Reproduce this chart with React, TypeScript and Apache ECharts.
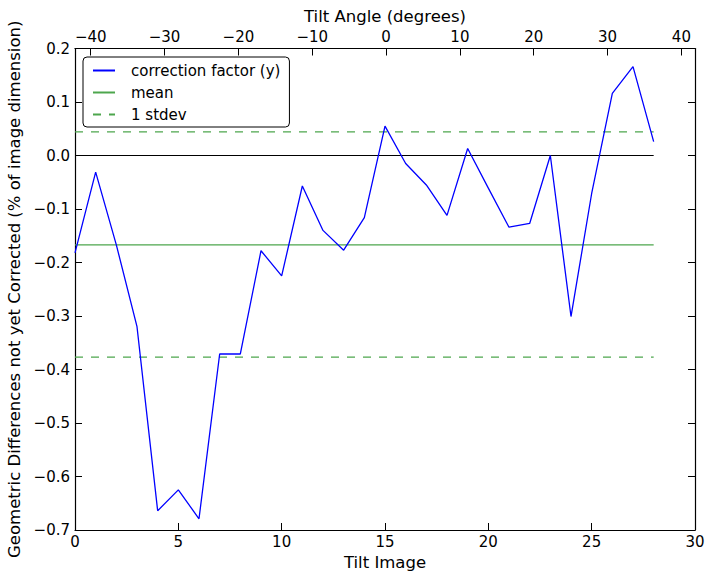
import React, { useEffect, useRef } from "react";
import * as echarts from "echarts";

// Tilt image index (bottom axis)
const tiltImage = [0, 1, 2, 3, 4, 5, 6, 7, 8, 9, 10, 11, 12, 13, 14, 15, 16, 17, 18, 19, 20, 21, 22, 23, 24, 25, 26, 27, 28];
// Correction factor (y), % of image dimension
const correction = [
  -0.182, -0.031, -0.167, -0.320, -0.664, -0.625, -0.679, -0.371, -0.371, -0.178,
  -0.225, -0.057, -0.140, -0.177, -0.116, 0.055, -0.015, -0.055, -0.112, 0.013,
  -0.061, -0.134, -0.127, 0.000, -0.301, -0.071, 0.116, 0.166, 0.026,
];
const meanValue = -0.167;
const stdevUpper = 0.044;
const stdevLower = -0.377;
const refSpan = [0, 28];
// Tilt angle range mapped to the top axis (degrees)
const angleRange = [-42.13, 41.84];

const FONT = "DejaVu Sans";
const GREEN = "#4da64d";

const minus = (s: string) => s.replace("-", "\u2212");

export default function App() {
  const ref = useRef<HTMLDivElement>(null);
  useEffect(() => {
    const chart = echarts.init(ref.current!, null, { renderer: "svg" });
    const axisCommon = {
      axisLine: { show: true, onZero: false, lineStyle: { color: "#000", width: 1.2 } },
      axisTick: { show: true, inside: true, length: 7, lineStyle: { color: "#000", width: 1 } },
      splitLine: { show: false },
      nameTextStyle: { fontFamily: FONT, fontSize: 16.5, color: "#000" },
    };
    const labelStyle = { fontFamily: FONT, fontSize: 15, color: "#000" };
    const hline = (v: number) => [[refSpan[0], v], [refSpan[1], v]];
    chart.setOption({
      animation: false,
      backgroundColor: "#fff",
      grid: {
        left: 75,
        right: 19,
        top: 48.5,
        bottom: 49,
        containLabel: false,
        outerBoundsMode: "none",
      },
      legend: {
        data: ["correction factor (y)", "mean", "1 stdev"],
        orient: "vertical",
        left: 83,
        top: 57,
        itemWidth: 22,
        itemHeight: 14,
        itemGap: 7,
        padding: [6, 9, 5, 9],
        borderColor: "#000",
        borderWidth: 1,
        borderRadius: 4,
        backgroundColor: "#fff",
        selectedMode: false,
        itemStyle: { opacity: 0 },
        textStyle: { fontFamily: FONT, fontSize: 15, color: "#000", padding: [0, 0, 0, 11] },
      },
      xAxis: [
        {
          type: "value",
          position: "bottom",
          min: 0,
          max: 30,
          interval: 5,
          name: "Tilt Image",
          nameLocation: "middle",
          nameGap: 23,
          ...axisCommon,
          axisLabel: { ...labelStyle, margin: 4 },
        },
        {
          type: "value",
          position: "top",
          min: angleRange[0],
          max: angleRange[1],
          splitNumber: 8,
          name: "Tilt Angle (degrees)",
          nameLocation: "middle",
          nameGap: 23,
          ...axisCommon,
          axisLabel: {
            ...labelStyle,
            margin: 4,
            showMinLabel: false,
            showMaxLabel: false,
            formatter: (v: number) => minus(String(Math.round(v))),
          },
        },
      ],
      yAxis: [
        {
          type: "value",
          position: "left",
          min: -0.7,
          max: 0.2,
          interval: 0.1,
          name: "Geometric Differences not yet Corrected (% of image dimension)",
          nameLocation: "middle",
          nameGap: 51,
          ...axisCommon,
          axisLabel: {
            ...labelStyle,
            margin: 5,
            formatter: (v: number) => (Math.abs(v) < 1e-9 ? "0.0" : minus(v.toFixed(1))),
          },
        },
        {
          type: "value",
          position: "right",
          min: -0.7,
          max: 0.2,
          interval: 0.1,
          ...axisCommon,
          axisLabel: { show: false },
        },
      ],
      series: [
        {
          name: "zero",
          type: "line",
          data: hline(0),
          symbol: "none",
          silent: true,
          lineStyle: { color: "#000", width: 1.2 },
          itemStyle: { color: "#000" },
        },
        {
          name: "mean",
          type: "line",
          data: hline(meanValue),
          symbol: "none",
          lineStyle: { color: GREEN, width: 1.2 },
          itemStyle: { color: GREEN },
        },
        {
          name: "1 stdev",
          type: "line",
          data: hline(stdevUpper),
          symbol: "none",
          lineStyle: { color: GREEN, width: 1.2, type: [8, 8] },
          itemStyle: { color: GREEN },
        },
        {
          name: "1 stdev",
          type: "line",
          data: hline(stdevLower),
          symbol: "none",
          lineStyle: { color: GREEN, width: 1.2, type: [8, 8] },
          itemStyle: { color: GREEN },
        },
        {
          name: "correction factor (y)",
          type: "line",
          data: tiltImage.map((x, i) => [x, correction[i]]),
          symbol: "none",
          lineStyle: { color: "#0000ff", width: 1.3 },
          itemStyle: { color: "#0000ff" },
        },
      ],
    });
    return () => chart.dispose();
  }, []);
  return (
    <div
      ref={ref}
      style={{ position: "fixed", left: 0, top: 0, width: 714, height: 579, background: "#fff" }}
    />
  );
}
